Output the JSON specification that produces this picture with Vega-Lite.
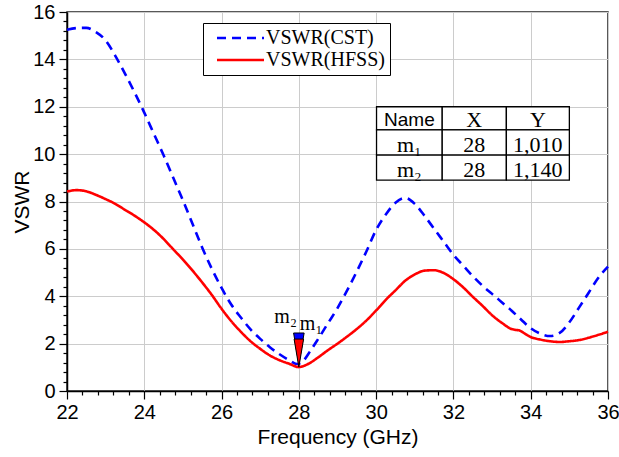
{
  "$schema": "https://vega.github.io/schema/vega-lite/v6.json",
  "width": 541,
  "height": 379,
  "autosize": "none",
  "padding": {"left": 67, "top": 12, "right": 11, "bottom": 66},
  "background": "white",
  "datasets": {
    "series": [
      {"series": "VSWR(CST)", "freq": 22.0, "vswr": 15.25},
      {"series": "VSWR(CST)", "freq": 22.25, "vswr": 15.32},
      {"series": "VSWR(CST)", "freq": 22.5, "vswr": 15.33},
      {"series": "VSWR(CST)", "freq": 22.75, "vswr": 15.15},
      {"series": "VSWR(CST)", "freq": 23.0, "vswr": 14.8},
      {"series": "VSWR(CST)", "freq": 23.25, "vswr": 14.15},
      {"series": "VSWR(CST)", "freq": 23.5, "vswr": 13.4},
      {"series": "VSWR(CST)", "freq": 23.75, "vswr": 12.6},
      {"series": "VSWR(CST)", "freq": 24.0, "vswr": 11.75},
      {"series": "VSWR(CST)", "freq": 24.25, "vswr": 10.85},
      {"series": "VSWR(CST)", "freq": 24.5, "vswr": 9.95},
      {"series": "VSWR(CST)", "freq": 24.75, "vswr": 9.0},
      {"series": "VSWR(CST)", "freq": 25.0, "vswr": 8.05},
      {"series": "VSWR(CST)", "freq": 25.25, "vswr": 7.05},
      {"series": "VSWR(CST)", "freq": 25.5, "vswr": 6.05},
      {"series": "VSWR(CST)", "freq": 25.75, "vswr": 5.15},
      {"series": "VSWR(CST)", "freq": 26.0, "vswr": 4.35},
      {"series": "VSWR(CST)", "freq": 26.25, "vswr": 3.65},
      {"series": "VSWR(CST)", "freq": 26.5, "vswr": 3.1},
      {"series": "VSWR(CST)", "freq": 26.75, "vswr": 2.6},
      {"series": "VSWR(CST)", "freq": 27.0, "vswr": 2.2},
      {"series": "VSWR(CST)", "freq": 27.25, "vswr": 1.85},
      {"series": "VSWR(CST)", "freq": 27.5, "vswr": 1.55},
      {"series": "VSWR(CST)", "freq": 27.75, "vswr": 1.3},
      {"series": "VSWR(CST)", "freq": 27.95, "vswr": 1.14},
      {"series": "VSWR(CST)", "freq": 28.1, "vswr": 1.25},
      {"series": "VSWR(CST)", "freq": 28.3, "vswr": 1.7},
      {"series": "VSWR(CST)", "freq": 28.5, "vswr": 2.2},
      {"series": "VSWR(CST)", "freq": 28.75, "vswr": 2.85},
      {"series": "VSWR(CST)", "freq": 29.0, "vswr": 3.5},
      {"series": "VSWR(CST)", "freq": 29.25, "vswr": 4.25},
      {"series": "VSWR(CST)", "freq": 29.5, "vswr": 5.05},
      {"series": "VSWR(CST)", "freq": 29.75, "vswr": 5.9},
      {"series": "VSWR(CST)", "freq": 30.0, "vswr": 6.8},
      {"series": "VSWR(CST)", "freq": 30.25, "vswr": 7.45},
      {"series": "VSWR(CST)", "freq": 30.5, "vswr": 7.95},
      {"series": "VSWR(CST)", "freq": 30.75, "vswr": 8.15},
      {"series": "VSWR(CST)", "freq": 31.0, "vswr": 7.9},
      {"series": "VSWR(CST)", "freq": 31.25, "vswr": 7.4},
      {"series": "VSWR(CST)", "freq": 31.5, "vswr": 6.85},
      {"series": "VSWR(CST)", "freq": 31.75, "vswr": 6.3},
      {"series": "VSWR(CST)", "freq": 32.0, "vswr": 5.75},
      {"series": "VSWR(CST)", "freq": 32.25, "vswr": 5.3},
      {"series": "VSWR(CST)", "freq": 32.5, "vswr": 4.85},
      {"series": "VSWR(CST)", "freq": 32.75, "vswr": 4.45},
      {"series": "VSWR(CST)", "freq": 33.0, "vswr": 4.1},
      {"series": "VSWR(CST)", "freq": 33.25, "vswr": 3.75},
      {"series": "VSWR(CST)", "freq": 33.5, "vswr": 3.4},
      {"series": "VSWR(CST)", "freq": 33.75, "vswr": 3.02},
      {"series": "VSWR(CST)", "freq": 34.0, "vswr": 2.65},
      {"series": "VSWR(CST)", "freq": 34.25, "vswr": 2.42},
      {"series": "VSWR(CST)", "freq": 34.5, "vswr": 2.32},
      {"series": "VSWR(CST)", "freq": 34.75, "vswr": 2.45},
      {"series": "VSWR(CST)", "freq": 35.0, "vswr": 2.9},
      {"series": "VSWR(CST)", "freq": 35.25, "vswr": 3.52},
      {"series": "VSWR(CST)", "freq": 35.5, "vswr": 4.15},
      {"series": "VSWR(CST)", "freq": 35.75, "vswr": 4.78},
      {"series": "VSWR(CST)", "freq": 36.0, "vswr": 5.25},
      {"series": "VSWR(HFSS)", "freq": 22.0, "vswr": 8.42},
      {"series": "VSWR(HFSS)", "freq": 22.25, "vswr": 8.48},
      {"series": "VSWR(HFSS)", "freq": 22.5, "vswr": 8.43},
      {"series": "VSWR(HFSS)", "freq": 22.75, "vswr": 8.28},
      {"series": "VSWR(HFSS)", "freq": 23.0, "vswr": 8.1},
      {"series": "VSWR(HFSS)", "freq": 23.25, "vswr": 7.9},
      {"series": "VSWR(HFSS)", "freq": 23.5, "vswr": 7.65},
      {"series": "VSWR(HFSS)", "freq": 23.75, "vswr": 7.4},
      {"series": "VSWR(HFSS)", "freq": 24.0, "vswr": 7.12},
      {"series": "VSWR(HFSS)", "freq": 24.25, "vswr": 6.8},
      {"series": "VSWR(HFSS)", "freq": 24.5, "vswr": 6.42},
      {"series": "VSWR(HFSS)", "freq": 24.75, "vswr": 5.98},
      {"series": "VSWR(HFSS)", "freq": 25.0, "vswr": 5.55},
      {"series": "VSWR(HFSS)", "freq": 25.25, "vswr": 5.08},
      {"series": "VSWR(HFSS)", "freq": 25.5, "vswr": 4.58},
      {"series": "VSWR(HFSS)", "freq": 25.75, "vswr": 4.05},
      {"series": "VSWR(HFSS)", "freq": 26.0, "vswr": 3.47},
      {"series": "VSWR(HFSS)", "freq": 26.25, "vswr": 2.95},
      {"series": "VSWR(HFSS)", "freq": 26.5, "vswr": 2.5},
      {"series": "VSWR(HFSS)", "freq": 26.75, "vswr": 2.1},
      {"series": "VSWR(HFSS)", "freq": 27.0, "vswr": 1.78},
      {"series": "VSWR(HFSS)", "freq": 27.25, "vswr": 1.5},
      {"series": "VSWR(HFSS)", "freq": 27.5, "vswr": 1.3},
      {"series": "VSWR(HFSS)", "freq": 27.75, "vswr": 1.15},
      {"series": "VSWR(HFSS)", "freq": 28.0, "vswr": 1.01},
      {"series": "VSWR(HFSS)", "freq": 28.25, "vswr": 1.15},
      {"series": "VSWR(HFSS)", "freq": 28.5, "vswr": 1.42},
      {"series": "VSWR(HFSS)", "freq": 28.75, "vswr": 1.72},
      {"series": "VSWR(HFSS)", "freq": 29.0, "vswr": 2.0},
      {"series": "VSWR(HFSS)", "freq": 29.25, "vswr": 2.3},
      {"series": "VSWR(HFSS)", "freq": 29.5, "vswr": 2.62},
      {"series": "VSWR(HFSS)", "freq": 29.75, "vswr": 2.98},
      {"series": "VSWR(HFSS)", "freq": 30.0, "vswr": 3.4},
      {"series": "VSWR(HFSS)", "freq": 30.25, "vswr": 3.85},
      {"series": "VSWR(HFSS)", "freq": 30.5, "vswr": 4.25},
      {"series": "VSWR(HFSS)", "freq": 30.75, "vswr": 4.65},
      {"series": "VSWR(HFSS)", "freq": 31.0, "vswr": 4.92},
      {"series": "VSWR(HFSS)", "freq": 31.25, "vswr": 5.08},
      {"series": "VSWR(HFSS)", "freq": 31.5, "vswr": 5.1},
      {"series": "VSWR(HFSS)", "freq": 31.75, "vswr": 4.98},
      {"series": "VSWR(HFSS)", "freq": 32.0, "vswr": 4.72},
      {"series": "VSWR(HFSS)", "freq": 32.25, "vswr": 4.38},
      {"series": "VSWR(HFSS)", "freq": 32.5, "vswr": 3.98},
      {"series": "VSWR(HFSS)", "freq": 32.75, "vswr": 3.6},
      {"series": "VSWR(HFSS)", "freq": 33.0, "vswr": 3.2},
      {"series": "VSWR(HFSS)", "freq": 33.25, "vswr": 2.88},
      {"series": "VSWR(HFSS)", "freq": 33.5, "vswr": 2.62},
      {"series": "VSWR(HFSS)", "freq": 33.6, "vswr": 2.58},
      {"series": "VSWR(HFSS)", "freq": 33.7, "vswr": 2.56},
      {"series": "VSWR(HFSS)", "freq": 33.85, "vswr": 2.42},
      {"series": "VSWR(HFSS)", "freq": 34.0, "vswr": 2.28},
      {"series": "VSWR(HFSS)", "freq": 34.25, "vswr": 2.17},
      {"series": "VSWR(HFSS)", "freq": 34.5, "vswr": 2.1},
      {"series": "VSWR(HFSS)", "freq": 34.75, "vswr": 2.07},
      {"series": "VSWR(HFSS)", "freq": 35.0, "vswr": 2.1},
      {"series": "VSWR(HFSS)", "freq": 35.25, "vswr": 2.15},
      {"series": "VSWR(HFSS)", "freq": 35.5, "vswr": 2.25},
      {"series": "VSWR(HFSS)", "freq": 35.75, "vswr": 2.37},
      {"series": "VSWR(HFSS)", "freq": 36.0, "vswr": 2.5}
    ],
    "markers": [
      {"name": "m₁", "freq": 28, "vswr": 1.01},
      {"name": "m₂", "freq": 28, "vswr": 1.14}
    ],
    "table": [
      {"label": "Name", "sans": true, "x0": 30.01, "x1": 31.71, "xc": 30.86, "y0": 12.0, "y1": 11.02},
      {"label": "X", "sans": false, "x0": 31.71, "x1": 33.37, "xc": 32.54, "y0": 12.0, "y1": 11.02},
      {"label": "Y", "sans": false, "x0": 33.37, "x1": 35.0, "xc": 34.185, "y0": 12.0, "y1": 11.02},
      {"label": "m₁", "sans": false, "x0": 30.01, "x1": 31.71, "xc": 30.86, "y0": 11.02, "y1": 9.96},
      {"label": "28", "sans": false, "x0": 31.71, "x1": 33.37, "xc": 32.54, "y0": 11.02, "y1": 9.96},
      {"label": "1,010", "sans": false, "x0": 33.37, "x1": 35.0, "xc": 34.185, "y0": 11.02, "y1": 9.96},
      {"label": "m₂", "sans": false, "x0": 30.01, "x1": 31.71, "xc": 30.86, "y0": 9.96, "y1": 8.9},
      {"label": "28", "sans": false, "x0": 31.71, "x1": 33.37, "xc": 32.54, "y0": 9.96, "y1": 8.9},
      {"label": "1,140", "sans": false, "x0": 33.37, "x1": 35.0, "xc": 34.185, "y0": 9.96, "y1": 8.9}
    ]
  },
  "layer": [
    {
      "data": {"name": "series"},
      "mark": {"type": "line", "interpolate": "monotone", "strokeWidth": 2.6, "strokeCap": "butt"},
      "encoding": {
        "x": {
          "field": "freq", "type": "quantitative",
          "scale": {"domain": [22, 36], "nice": false, "zero": false},
          "axis": {
            "title": "Frequency (GHz)",
            "values": [22,22.4,22.8,23.2,23.6,24,24.4,24.8,25.2,25.6,26,26.4,26.8,27.2,27.6,28,28.4,28.8,29.2,29.6,30,30.4,30.8,31.2,31.6,32,32.4,32.8,33.2,33.6,34,34.4,34.8,35.2,35.6,36],
            "tickCount": 200,
            "labelExpr": "abs(datum.value/2 - round(datum.value/2)) < 0.001 ? format(datum.value, 'd') : ''",
            "tickSize": {"condition": {"test": "abs(datum.value/2 - round(datum.value/2)) < 0.001", "value": 8}, "value": 4},
            "gridOpacity": {"condition": {"test": "abs(datum.value/2 - round(datum.value/2)) < 0.001", "value": 1}, "value": 0},
            "grid": true,
            "labelFlush": false,
            "labelOverlap": false,
            "labelPadding": 3,
            "titlePadding": 4
          }
        },
        "y": {
          "field": "vswr", "type": "quantitative",
          "scale": {"domain": [0, 16], "nice": false, "zero": false},
          "axis": {
            "title": "VSWR",
            "values": [0,0.4,0.8,1.2,1.6,2,2.4,2.8,3.2,3.6,4,4.4,4.8,5.2,5.6,6,6.4,6.8,7.2,7.6,8,8.4,8.8,9.2,9.6,10,10.4,10.8,11.2,11.6,12,12.4,12.8,13.2,13.6,14,14.4,14.8,15.2,15.6,16],
            "tickCount": 200,
            "labelExpr": "abs(datum.value/2 - round(datum.value/2)) < 0.001 ? format(datum.value, 'd') : ''",
            "tickSize": {"condition": {"test": "abs(datum.value/2 - round(datum.value/2)) < 0.001", "value": 8}, "value": 4},
            "gridOpacity": {"condition": {"test": "abs(datum.value/2 - round(datum.value/2)) < 0.001", "value": 1}, "value": 0},
            "grid": true,
            "labelOverlap": false,
            "labelFlush": false,
            "labelPadding": 4,
            "titlePadding": 0
          }
        },
        "color": {
          "field": "series", "type": "nominal",
          "scale": {"domain": ["VSWR(CST)", "VSWR(HFSS)"], "range": ["#0000ff", "#ff0000"]},
          "legend": {
            "title": null,
            "orient": "none",
            "legendX": 136,
            "legendY": 11,
            "direction": "vertical",
            "fillColor": "white",
            "strokeColor": "black",
            "padding": 5,
            "labelFont": "Liberation Serif",
            "labelFontSize": 20,
            "labelColor": "black",
            "labelOffset": 38,
            "symbolType": "M-0.2,0L9.2,0",
            "symbolSize": 100,
            "symbolStrokeWidth": 2.6,
            "rowPadding": 2,
            "cornerRadius": 0
          }
        },
        "strokeDash": {
          "field": "series", "type": "nominal",
          "scale": {"domain": ["VSWR(CST)", "VSWR(HFSS)"], "range": [[9, 6], [1, 0]]},
          "legend": null
        }
      }
    },
    {
      "data": {"name": "markers"},
      "transform": [{"filter": "datum.name === 'm₂'"}],
      "mark": {"type": "point", "shape": "M-0.34,-2L0.34,-2L0,0Z", "size": 961, "filled": true, "fill": "#0000ff", "stroke": "black", "strokeWidth": 1, "opacity": 1},
      "encoding": {
        "x": {"field": "freq", "type": "quantitative"},
        "y": {"field": "vswr", "type": "quantitative"}
      }
    },
    {
      "data": {"name": "markers"},
      "transform": [{"filter": "datum.name === 'm₁'"}],
      "mark": {"type": "point", "shape": "M-0.34,-2L0.34,-2L0,0Z", "size": 784, "filled": true, "fill": "#ff0000", "stroke": "black", "strokeWidth": 1, "opacity": 1},
      "encoding": {
        "x": {"field": "freq", "type": "quantitative"},
        "y": {"field": "vswr", "type": "quantitative"}
      }
    },
    {
      "data": {"name": "markers"},
      "transform": [{"filter": "datum.name === 'm₂'"}],
      "mark": {"type": "text", "font": "Liberation Serif", "fontSize": 20, "align": "right", "baseline": "alphabetic", "dx": -2, "dy": -41, "color": "black"},
      "encoding": {
        "x": {"field": "freq", "type": "quantitative"},
        "y": {"field": "vswr", "type": "quantitative"},
        "text": {"field": "name"}
      }
    },
    {
      "data": {"name": "markers"},
      "transform": [{"filter": "datum.name === 'm₁'"}],
      "mark": {"type": "text", "font": "Liberation Serif", "fontSize": 20, "align": "left", "baseline": "alphabetic", "dx": 1, "dy": -37, "color": "black"},
      "encoding": {
        "x": {"field": "freq", "type": "quantitative"},
        "y": {"field": "vswr", "type": "quantitative"},
        "text": {"field": "name"}
      }
    },
    {
      "data": {"name": "table"},
      "mark": {"type": "rect", "fill": "white", "stroke": "black", "strokeWidth": 1.3},
      "encoding": {
        "x": {"field": "x0", "type": "quantitative"},
        "x2": {"field": "x1"},
        "y": {"field": "y0", "type": "quantitative"},
        "y2": {"field": "y1"}
      }
    },
    {
      "data": {"name": "table"},
      "transform": [{"filter": "datum.sans"}],
      "mark": {"type": "text", "font": "Liberation Sans", "fontSize": 19, "align": "center", "baseline": "alphabetic", "dy": -4, "color": "black"},
      "encoding": {
        "x": {"field": "xc", "type": "quantitative"},
        "y": {"field": "y1", "type": "quantitative"},
        "text": {"field": "label"}
      }
    },
    {
      "data": {"name": "table"},
      "transform": [{"filter": "!datum.sans"}],
      "mark": {"type": "text", "font": "Liberation Serif", "fontSize": 22, "align": "center", "baseline": "alphabetic", "dy": -3, "color": "black"},
      "encoding": {
        "x": {"field": "xc", "type": "quantitative"},
        "y": {"field": "y1", "type": "quantitative"},
        "text": {"field": "label"}
      }
    }
  ],
  "config": {
    "view": {"stroke": "#222", "strokeWidth": 1.5},
    "axis": {
      "domainColor": "black",
      "domainWidth": 1.5,
      "tickColor": "black",
      "tickWidth": 1.2,
      "labelFont": "Liberation Sans",
      "labelFontSize": 20,
      "labelColor": "black",
      "titleFont": "Liberation Sans",
      "titleFontSize": 21,
      "titleFontWeight": "normal",
      "titleColor": "black",
      "gridColor": "#cccccc",
      "gridWidth": 1
    }
  }
}
